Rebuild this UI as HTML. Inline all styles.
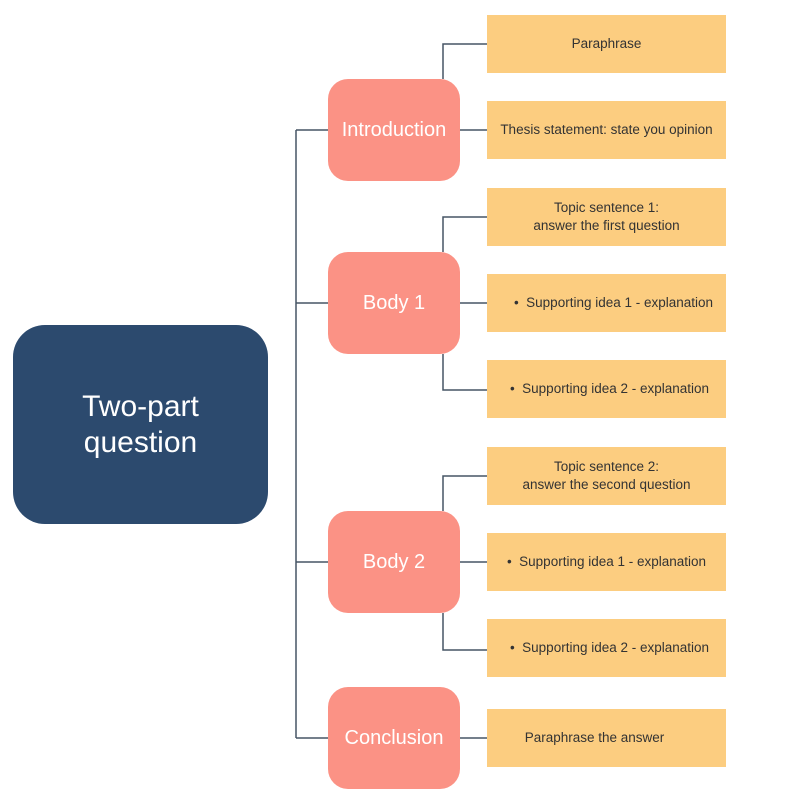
<!DOCTYPE html>
<html><head><meta charset="utf-8"><style>
body{margin:0;width:800px;height:800px;background:#fff;position:relative;overflow:hidden;font-family:"Liberation Sans",sans-serif}
.b{position:absolute;display:flex;align-items:center;justify-content:center;text-align:center}
.m{left:13px;top:325px;width:255px;height:199px;background:#2c4a6e;border-radius:32px;color:#fff;font-size:30px;line-height:36px}
.p{width:132px;height:102px;background:#fb9285;border-radius:20px;color:#fff;font-size:20px;left:328px}
.y{left:487px;width:239px;height:58px;background:#fccd80;color:#333;font-size:13.5px;line-height:18px;white-space:nowrap}
svg{position:absolute;left:0;top:0}
</style></head><body>
<svg width="800" height="800"><g stroke="#465565" stroke-width="1.5" fill="none">
<path d="M296 130V738M296 130H329M296 303H328M296 562H328M296 738H329"/>
<path d="M443 79V44H487M460 130H487"/>
<path d="M443 252V217H487M460 303H487M443 354V390H487"/>
<path d="M443 511V476H487M460 562H487M443 613V650H487"/>
<path d="M460 738H487"/>
</g></svg>
<div class="b m">Two-part<br>question</div>
<div class="b p" style="top:79px">Introduction</div>
<div class="b p" style="top:252px">Body 1</div>
<div class="b p" style="top:511px">Body 2</div>
<div class="b p" style="top:687px">Conclusion</div>
<div class="b y" style="top:15px">Paraphrase</div>
<div class="b y" style="top:101px">Thesis statement: state you opinion</div>
<div class="b y" style="top:188px">Topic sentence 1:<br>answer the first question</div>
<div class="b y" style="top:274px;padding-left:14px;box-sizing:border-box">•&nbsp;&nbsp;Supporting idea 1 - explanation</div>
<div class="b y" style="top:360px;padding-left:6px;box-sizing:border-box">•&nbsp;&nbsp;Supporting idea 2 - explanation</div>
<div class="b y" style="top:447px">Topic sentence 2:<br>answer the second question</div>
<div class="b y" style="top:533px">•&nbsp;&nbsp;Supporting idea 1 - explanation</div>
<div class="b y" style="top:619px;padding-left:6px;box-sizing:border-box">•&nbsp;&nbsp;Supporting idea 2 - explanation</div>
<div class="b y" style="top:709px;padding-right:24px;box-sizing:border-box">Paraphrase the answer</div>
</body></html>
